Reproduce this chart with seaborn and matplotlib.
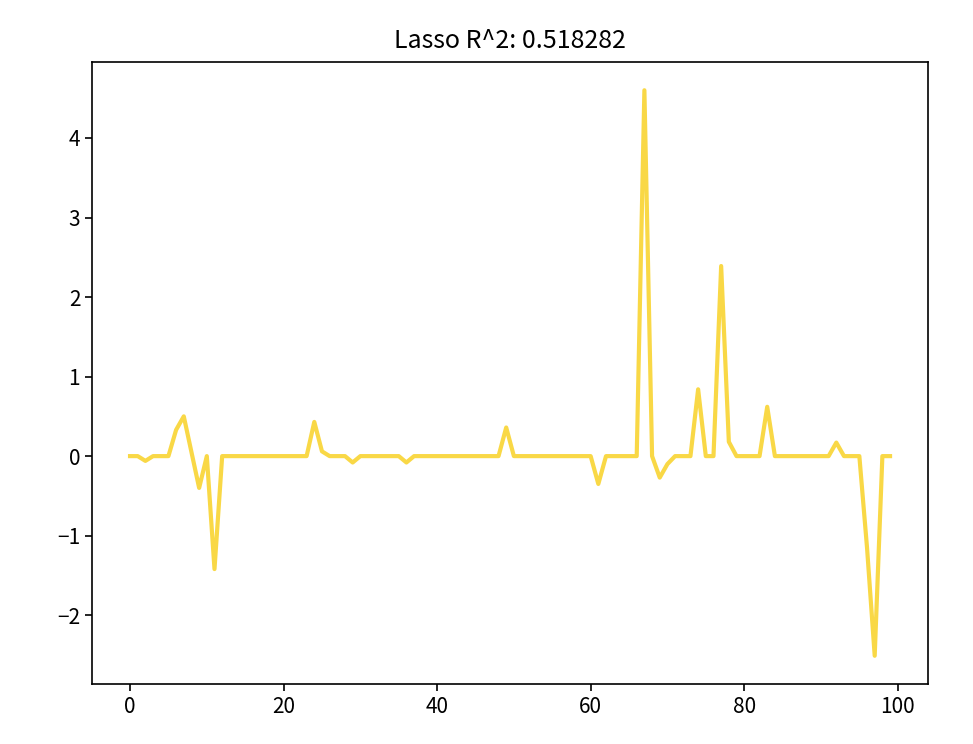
import numpy as np
import pandas as pd
import matplotlib
matplotlib.use('Agg')
import matplotlib.pyplot as plt
import seaborn as sns

#coeficientes do lasso
coef = [0, 0, -0.06, 0, 0, 0, 0.33, 0.5, 0.05, -0.4,
        0, -1.42, 0, 0, 0, 0, 0, 0, 0, 0,
        0, 0, 0, 0, 0.43, 0.06, 0, 0, 0, -0.08,
        0, 0, 0, 0, 0, 0, -0.08, 0, 0, 0,
        0, 0, 0, 0, 0, 0, 0, 0, 0, 0.36,
        0, 0, 0, 0, 0, 0, 0, 0, 0, 0,
        0, -0.35, 0, 0, 0, 0, 0, 4.6, 0, -0.27,
        -0.1, 0, 0, 0, 0.84, 0, 0, 2.39, 0.18, 0,
        0, 0, 0, 0.62, 0, 0, 0, 0, 0, 0,
        0, 0, 0.17, 0, 0, 0, -1.15, -2.51, 0, 0]
r2 = 0.518282
titulo = 'Lasso R^2: %f' % r2

plt.rcParams['font.family'] = ['Noto Sans CJK SC', 'DejaVu Sans']

df = pd.DataFrame({'idx': np.arange(len(coef)), 'coef': coef})

fig = plt.figure(figsize=(9.73, 7.44), dpi=100)
ax = fig.add_axes([0.0946, 0.0806, 0.8592, 0.8361])

sns.lineplot(data=df, x='idx', y='coef', color='#f9d846', linewidth=3, ax=ax)

ax.set_xlabel('')
ax.set_ylabel('')
ax.set_title(titulo, fontsize=18, pad=10)
ax.tick_params(labelsize=15, width=1.2, length=5)
for s in ax.spines.values():
    s.set_linewidth(1.2)

fig.savefig('out.png', dpi=100)
